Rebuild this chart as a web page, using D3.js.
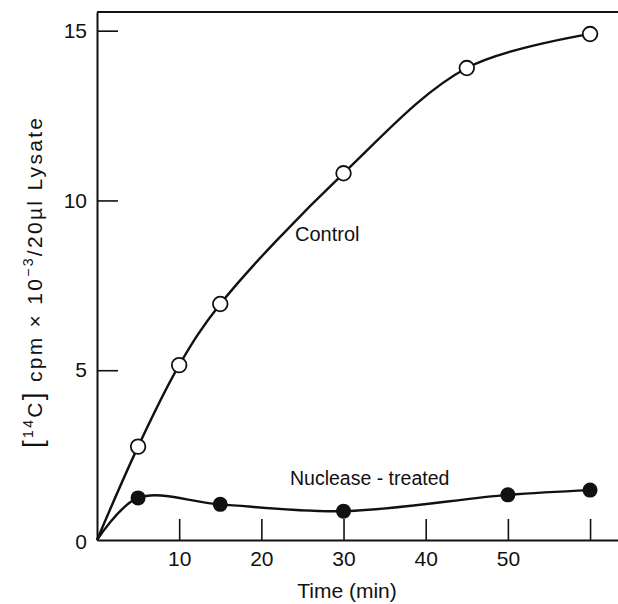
<!DOCTYPE html>
<html><head><meta charset="utf-8">
<script src="https://cdn.jsdelivr.net/npm/d3@7"></script>
<style>
body{margin:0;background:#fff;}
text{font-family:"Liberation Sans",Arial,sans-serif;fill:#111;}
</style></head>
<body><svg id="c" width="618" height="604"></svg>
<script>
const controlTime = [0, 5, 10, 15, 30, 45, 60];
const controlValue = [0, 2.75, 5.15, 6.95, 10.8, 13.9, 14.9];
const nucTime = [0, 5, 15, 30, 50, 60];
const nucValue = [0, 1.24, 1.05, 0.85, 1.33, 1.47];
const xTicks = [10, 20, 30, 40, 50, 60];
const xTickLabels = ["10", "20", "30", "40", "50", ""];
const yTicks = [0, 5, 10, 15];

const svg = d3.select("#c");
const x = d3.scaleLinear().domain([0, 63.4]).range([97, 618]);
const y = d3.scaleLinear().domain([0, 15.55]).range([540, 12]);

const ink = "#111";
const font = "Liberation Sans, Arial, sans-serif";
// x axis
const gx = svg.append("g").attr("transform", `translate(0,${y(0)})`)
  .call(d3.axisBottom(x).tickValues(xTicks).tickSizeInner(-21).tickSizeOuter(0).tickPadding(11)
    .tickFormat((d, i) => xTickLabels[i]));
gx.select(".domain").attr("stroke", ink).attr("stroke-width", 2);
gx.selectAll(".tick line").attr("stroke", ink).attr("stroke-width", 1.6);
gx.selectAll(".tick text").attr("font-size", 21).attr("fill", ink).attr("font-family", font);

// y axis
const gy = svg.append("g").attr("transform", `translate(${x(0)},0)`)
  .call(d3.axisLeft(y).tickValues(yTicks).tickSizeInner(-21).tickSizeOuter(0).tickPadding(10)
    .tickFormat(d3.format("d")));
gy.select(".domain").attr("stroke", ink).attr("stroke-width", 2);
gy.selectAll(".tick line").attr("stroke", ink).attr("stroke-width", 1.6);
gy.selectAll(".tick").filter(d => d === 0).select("line").remove();
gy.selectAll(".tick text").attr("font-size", 21).attr("fill", ink).attr("font-family", font);
gy.selectAll(".tick").filter(d => d === 0).select("text").attr("dy", "0.4em");

// top frame line
svg.append("line").attr("x1", x(0)).attr("x2", x(63.4)).attr("y1", y(15.55)).attr("y2", y(15.55))
  .attr("stroke", ink).attr("stroke-width", 2);

const ctrl = controlTime.map((t, i) => [t, controlValue[i]]);
const nuc = nucTime.map((t, i) => [t, nucValue[i]]);
const lineC = d3.line().x(d => x(d[0])).y(d => y(d[1])).curve(d3.curveCatmullRom.alpha(0.5));
const lineN = d3.line().x(d => x(d[0])).y(d => y(d[1])).curve(d3.curveCatmullRom.alpha(0.5));

svg.append("path").attr("d", lineC(ctrl)).attr("fill", "none").attr("stroke", ink).attr("stroke-width", 2.4);
svg.append("path").attr("d", lineN(nuc)).attr("fill", "none").attr("stroke", ink).attr("stroke-width", 2.4);

svg.selectAll(".oc").data(ctrl.slice(1)).enter().append("circle")
  .attr("cx", d => x(d[0])).attr("cy", d => y(d[1])).attr("r", 7.3)
  .attr("fill", "#fff").attr("stroke", ink).attr("stroke-width", 1.8);
svg.selectAll(".fc").data(nuc.slice(1)).enter().append("circle")
  .attr("cx", d => x(d[0])).attr("cy", d => y(d[1])).attr("r", 7.5)
  .attr("fill", ink);

svg.append("text").attr("x", 295).attr("y", 241).attr("font-size", 20).text("Control");
svg.append("text").attr("x", 290).attr("y", 485).attr("font-size", 19.5).text("Nuclease - treated");
svg.append("text").attr("x", 347).attr("y", 598).attr("font-size", 21).attr("text-anchor", "middle").text("Time (min)");

const yl = svg.append("text").attr("transform", "translate(42,283) rotate(-90)")
  .attr("text-anchor", "middle").attr("font-size", 21)
  .attr("textLength", 330).attr("lengthAdjust", "spacing");
yl.append("tspan").attr("font-size", 28).text("[");
yl.append("tspan").attr("font-size", 14).attr("dy", -9).text("14");
yl.append("tspan").attr("dy", 9).text("C");
yl.append("tspan").attr("font-size", 28).text("]");
yl.append("tspan").text(" cpm \u00d7 10");
yl.append("tspan").attr("font-size", 14).attr("dy", -9).text("\u22123");
yl.append("tspan").attr("dy", 9).text("/20\u00b5l  Lysate");
</script></body></html>
